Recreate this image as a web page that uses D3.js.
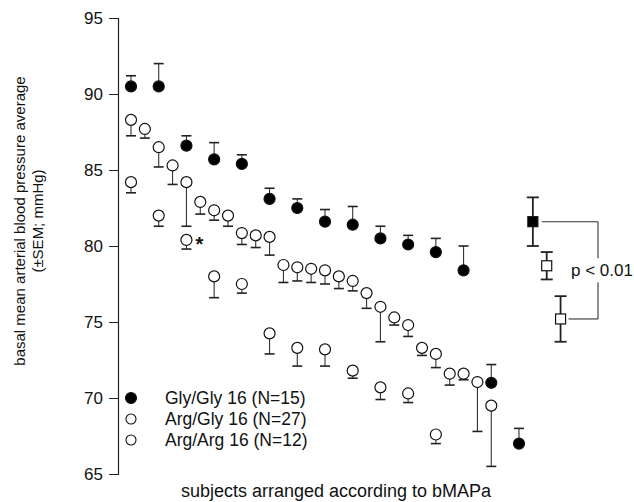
<!DOCTYPE html>
<html>
<head>
<meta charset="utf-8">
<script src="https://cdn.jsdelivr.net/npm/d3@7"></script>
<style>
  body { margin: 0; background: #fff; }
  text { font-family: "Liberation Sans", Arial, sans-serif; fill: #111; }
</style>
</head>
<body>
<script>
// Gly/Gly 16 (N=15): mean and SEM per subject (error bar drawn upward)
const glyGlyMean = [90.5, 90.5, 86.6, 85.7, 85.4, 83.1, 82.5, 81.6, 81.4, 80.5, 80.1, 79.6, 78.4, 71.0, 67.0];
const glyGlySem = [0.7, 1.5, 0.65, 1.1, 0.6, 0.7, 0.6, 0.8, 1.2, 0.8, 0.6, 0.9, 1.6, 1.2, 1.0];

// Arg/Gly 16 (N=27): error bar drawn downward
const argGlyMean = [88.3, 87.7, 86.5, 85.3, 84.2, 82.9, 82.35, 82.0, 80.85, 80.7, 80.6, 78.75, 78.6, 78.5,
  78.4, 78.0, 77.7, 76.9, 76.0, 75.3, 74.8, 73.3, 72.9, 71.6, 71.6, 71.05, 69.5];
const argGlySem = [1.05, 0.6, 1.3, 1.25, 2.9, 0.8, 0.65, 0.7, 0.75, 0.8, 1.2, 1.15, 0.9, 0.9,
  0.9, 0.8, 0.65, 1.0, 2.3, 0.5, 0.75, 0.5, 0.9, 0.75, 0.4, 3.25, 4.0];

// Arg/Arg 16 (N=12): error bar drawn downward
const argArgMean = [84.2, 82.0, 80.4, 78.0, 77.5, 74.25, 73.3, 73.2, 71.8, 70.7, 70.3, 67.6];
const argArgSem = [0.7, 0.7, 0.6, 1.4, 0.6, 1.35, 1.2, 1.1, 0.5, 0.8, 0.6, 0.6];

// group means (squares on the right)
const groupNames = ['Gly/Gly 16', 'Arg/Gly 16', 'Arg/Arg 16'];
const groupMean = [81.6, 78.7, 75.2];
const groupSem = [1.6, 0.9, 1.5];
const groupRank = [14.5, 15.0, 15.5];

const legendLabels = ['Gly/Gly 16 (N=15)', 'Arg/Gly 16 (N=27)', 'Arg/Arg 16 (N=12)'];
const yTicks = [65, 70, 75, 80, 85, 90, 95];

const W = 634, H = 502;
const svg = d3.select('body').append('svg')
  .attr('width', W)
  .attr('height', H);

// rank of subject -> x, one unit per Gly/Gly subject, half unit for Arg/Gly
const x = d3.scaleLinear().domain([0, 14]).range([131, 519]);
const y = d3.scaleLinear().domain([65, 95]).range([474, 18]);

// y axis
const yAxis = svg.append('g')
  .attr('transform', 'translate(118,0)')
  .call(d3.axisLeft(y).tickValues(yTicks).tickSize(9).tickPadding(6));
yAxis.select('.domain').attr('stroke', '#222').attr('stroke-width', 1.2);
yAxis.selectAll('.tick line').attr('stroke', '#222');
yAxis.selectAll('.tick text')
  .style('font-size', '17px')
  .style('font-family', '"Liberation Sans", Arial, sans-serif')
  .attr('fill', '#111');

// axis titles
const yTitle = svg.append('text')
  .attr('transform', 'translate(25,221) rotate(-90)')
  .attr('text-anchor', 'middle')
  .style('font-size', '15px');
yTitle.append('tspan').attr('x', 0).attr('dy', 0).text('basal mean arterial blood pressure average');
yTitle.append('tspan').attr('x', 0).attr('dy', '1.2em').text('(\u00B1SEM; mmHg)');

svg.append('text')
  .attr('x', 336)
  .attr('y', 497)
  .attr('text-anchor', 'middle')
  .style('font-size', '18px')
  .text('subjects arranged according to bMAPa');

const R = 5.5, CAP = 5;

// draws one series of circles with one-sided error bars
function drawSeries(means, sems, step, dir, filled) {
  const pts = means.map((m, i) => ({ r: i * step, m: m, s: sems[i] }));
  const g = svg.append('g');
  g.selectAll('line.bar').data(pts).enter().append('line')
    .attr('x1', d => x(d.r)).attr('x2', d => x(d.r))
    .attr('y1', d => y(d.m)).attr('y2', d => y(d.m + dir * d.s))
    .attr('stroke', '#333').attr('stroke-width', 1.1);
  g.selectAll('line.cap').data(pts).enter().append('line')
    .attr('x1', d => x(d.r) - CAP).attr('x2', d => x(d.r) + CAP)
    .attr('y1', d => y(d.m + dir * d.s)).attr('y2', d => y(d.m + dir * d.s))
    .attr('stroke', '#222').attr('stroke-width', 1.6);
  g.selectAll('circle').data(pts).enter().append('circle')
    .attr('cx', d => x(d.r)).attr('cy', d => y(d.m))
    .attr('r', R)
    .attr('fill', filled ? '#000' : '#fff')
    .attr('stroke', '#111').attr('stroke-width', 1.2);
}

drawSeries(argArgMean, argArgSem, 1, -1, false);
drawSeries(argGlyMean, argGlySem, 0.5, -1, false);
drawSeries(glyGlyMean, glyGlySem, 1, 1, true);

// asterisk beside the third Arg/Arg subject
svg.append('text')
  .attr('x', x(2) + 9)
  .attr('y', y(argArgMean[2]) + 11)
  .style('font-size', '20px')
  .style('font-weight', 'bold')
  .text('*');

// group means with SEM
const groups = groupMean.map((m, i) => ({ r: groupRank[i], m: m, s: groupSem[i], i: i }));
const gg = svg.append('g');
gg.selectAll('line.bar').data(groups).enter().append('line')
  .attr('x1', d => x(d.r)).attr('x2', d => x(d.r))
  .attr('y1', d => y(d.m - d.s)).attr('y2', d => y(d.m + d.s))
  .attr('stroke', '#222').attr('stroke-width', 1.8);
gg.selectAll('line.capT').data(groups).enter().append('line')
  .attr('x1', d => x(d.r) - 6).attr('x2', d => x(d.r) + 6)
  .attr('y1', d => y(d.m + d.s)).attr('y2', d => y(d.m + d.s))
  .attr('stroke', '#222').attr('stroke-width', 1.8);
gg.selectAll('line.capB').data(groups).enter().append('line')
  .attr('x1', d => x(d.r) - 6).attr('x2', d => x(d.r) + 6)
  .attr('y1', d => y(d.m - d.s)).attr('y2', d => y(d.m - d.s))
  .attr('stroke', '#222').attr('stroke-width', 1.8);
gg.selectAll('rect').data(groups).enter().append('rect')
  .attr('x', d => x(d.r) - 5).attr('y', d => y(d.m) - 5)
  .attr('width', 10).attr('height', 10)
  .attr('fill', d => d.i === 0 ? '#000' : '#fff')
  .attr('stroke', '#111').attr('stroke-width', 1.2);

// significance bracket between Gly/Gly and Arg/Arg
const bx = 598;
const yTop = y(groupMean[0]), yBot = y(groupMean[2]);
const br = svg.append('g').attr('stroke', '#333').attr('stroke-width', 1.1).attr('fill', 'none');
br.append('line').attr('x1', x(groupRank[0]) + 9).attr('x2', bx).attr('y1', yTop).attr('y2', yTop);
br.append('line').attr('x1', x(groupRank[2]) + 8).attr('x2', bx).attr('y1', yBot).attr('y2', yBot);
const midY = (yTop + yBot) / 2;
br.append('line').attr('x1', bx).attr('x2', bx).attr('y1', yTop).attr('y2', midY - 12);
br.append('line').attr('x1', bx).attr('x2', bx).attr('y1', midY + 12).attr('y2', yBot);
svg.append('text')
  .attr('x', 571)
  .attr('y', midY + 6)
  .style('font-size', '17px')
  .text('p < 0.01');

// legend
const leg = svg.append('g');
legendLabels.forEach((t, i) => {
  const ly = 398 + i * 21;
  leg.append('circle')
    .attr('cx', 131).attr('cy', ly)
    .attr('r', i === 0 ? 5.5 : 5)
    .attr('fill', i === 0 ? '#000' : '#fff')
    .attr('stroke', '#111').attr('stroke-width', 1.1);
  leg.append('text')
    .attr('x', 165).attr('y', ly + 6)
    .style('font-size', '17.5px')
    .text(t);
});
</script>
</body>
</html>
